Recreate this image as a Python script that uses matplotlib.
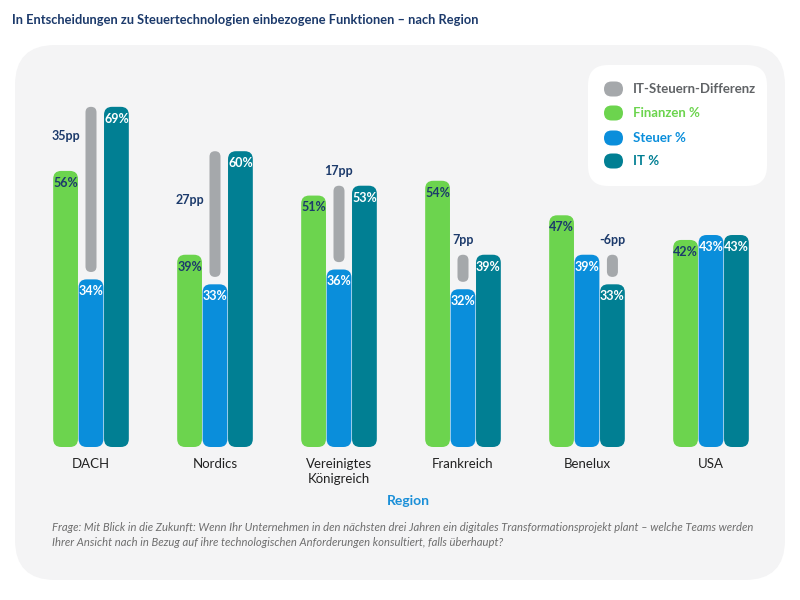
import matplotlib
matplotlib.use("Agg")
import matplotlib.pyplot as plt
from matplotlib.patches import FancyBboxPatch

plt.rcParams['font.family'] = ['Lato', 'DejaVu Sans']

# ---- data ----
categories = ["DACH", "Nordics", "Vereinigtes\nKönigreich", "Frankreich", "Benelux", "USA"]
finanzen = [56, 39, 51, 54, 47, 42]
steuer = [34, 33, 36, 32, 39, 43]
it = [69, 60, 53, 39, 33, 43]
legend_labels = ["IT-Steuern-Differenz", "Finanzen %", "Steuer %", "IT %"]

title = "In Entscheidungen zu Steuertechnologien einbezogene Funktionen – nach Region"
footnote = ("Frage: Mit Blick in die Zukunft: Wenn Ihr Unternehmen in den nächsten drei Jahren ein digitales Transformationsprojekt plant – welche Teams werden\n"
            "Ihrer Ansicht nach in Bezug auf ihre technologischen Anforderungen konsultiert, falls überhaupt?")

# ---- style ----
C_FIN = "#6CD44E"
C_ST = "#0A8EDB"
C_IT = "#017F93"
C_GRAY = "#A5A8AB"
C_NAVY = "#1C3A6B"
C_BG = "#F4F4F5"

W, H = 800, 600
fig = plt.figure(figsize=(8, 6), dpi=100)
fig.patch.set_facecolor("white")

def fx(px):
    return px / W

def fy(py):
    return 1 - py / H

# background panel
panel = FancyBboxPatch((fx(15), fy(580)), fx(785) - fx(15), fy(45) - fy(580),
                       boxstyle="round,pad=0,rounding_size=0.05",
                       mutation_aspect=W / H,
                       transform=fig.transFigure, facecolor=C_BG, edgecolor="none", zorder=-5)
fig.patches.append(panel)

fig.text(fx(12), fy(20), title, fontsize=9.3, fontweight="bold", color=C_NAVY,
         ha="left", va="center")

# legend box
leg = FancyBboxPatch((fx(588), fy(186)), fx(767) - fx(588), fy(65) - fy(186),
                     boxstyle="round,pad=0,rounding_size=0.025",
                     mutation_aspect=W / H,
                     transform=fig.transFigure, facecolor="white", edgecolor="none", zorder=-4)
fig.patches.append(leg)

# axes
px_per_unit_y = 4.93
base_px = 447
ymax = 75
ax = fig.add_axes([fx(29), fy(base_px), fx(773) - fx(29), ymax * px_per_unit_y / H])
ax.set_zorder(1)
ax.set_xlim(-0.5, 5.5)
ax.set_ylim(0, ymax)
ax.patch.set_visible(False)
for s in ax.spines.values():
    s.set_visible(False)
ax.set_yticks([])
ax.set_xticks(range(len(categories)))
ax.set_xticklabels(categories, fontsize=9.5, color="#222222", linespacing=1.25)
ax.tick_params(axis="x", length=0, pad=8)

px_per_unit_x = 744 / 6.0
asp = (1 / px_per_unit_y) / (1 / px_per_unit_x)

bw = 0.205
r = 8 / px_per_unit_x

def rbar(xc, h, width, color, rad, bottom=0, z=2):
    p = FancyBboxPatch((xc - width / 2, bottom), width, h,
                       boxstyle=f"round,pad=0,rounding_size={rad}",
                       mutation_aspect=asp, facecolor=color, edgecolor="none", zorder=z)
    ax.add_patch(p)

series = [(finanzen, C_FIN, -bw, C_NAVY), (steuer, C_ST, 0, "white"), (it, C_IT, bw, "white")]
for vals, col, off, tcol in series:
    for i, v in enumerate(vals):
        rbar(i + off, v, bw - 0.005, col, r)
        ax.annotate(f"{v}%", (i + off, v), xytext=(0, -8.5), textcoords="offset points",
                    ha="center", va="center", fontsize=9, fontweight="bold", color=tcol, zorder=5)

# difference bars
gw = 11 / px_per_unit_x
for i in range(len(categories)):
    d = it[i] - steuer[i]
    if d == 0:
        continue
    lo, hi = min(it[i], steuer[i]), max(it[i], steuer[i])
    xg = i if d > 0 else i + bw
    bottom = lo + 1.5
    rbar(xg, hi - bottom, gw, C_GRAY, gw / 2, bottom=bottom, z=3)
    if hi - finanzen[i] > 5:
        lx, ly = i - bw, (finanzen[i] + hi) / 2 + 0.5
    else:
        lx, ly = xg, hi + 2.9
    ax.text(lx, ly, f"{d}pp", ha="center", va="center", fontsize=9,
            fontweight="bold", color=C_NAVY, zorder=5)

# region label and footnote
fig.text(fx(408), fy(501), "Region", fontsize=10, fontweight="bold", color="#1A8FD8",
         ha="center", va="center")
fig.text(fx(52), fy(535), footnote, fontsize=8.15, style="italic", color="#6E6E6E",
         ha="left", va="center", linespacing=1.45)

# legend entries
leg_colors = [C_GRAY, C_FIN, C_ST, C_IT]
leg_text_colors = ["#606366", C_FIN, C_ST, C_IT]
rows = [89, 113, 138, 161]
for lab, c, tc, ry in zip(legend_labels, leg_colors, leg_text_colors, rows):
    m = FancyBboxPatch((fx(604), fy(ry + 7.5)), fx(19), 15 / H,
                       boxstyle="round,pad=0,rounding_size=0.0095",
                       mutation_aspect=W / H,
                       transform=fig.transFigure, facecolor=c, edgecolor="none", zorder=2)
    fig.patches.append(m)
    fig.text(fx(633), fy(ry), lab, fontsize=9.5, fontweight="bold", color=tc,
             ha="left", va="center", zorder=3)

fig.savefig("out.png", dpi=100, facecolor="white")
